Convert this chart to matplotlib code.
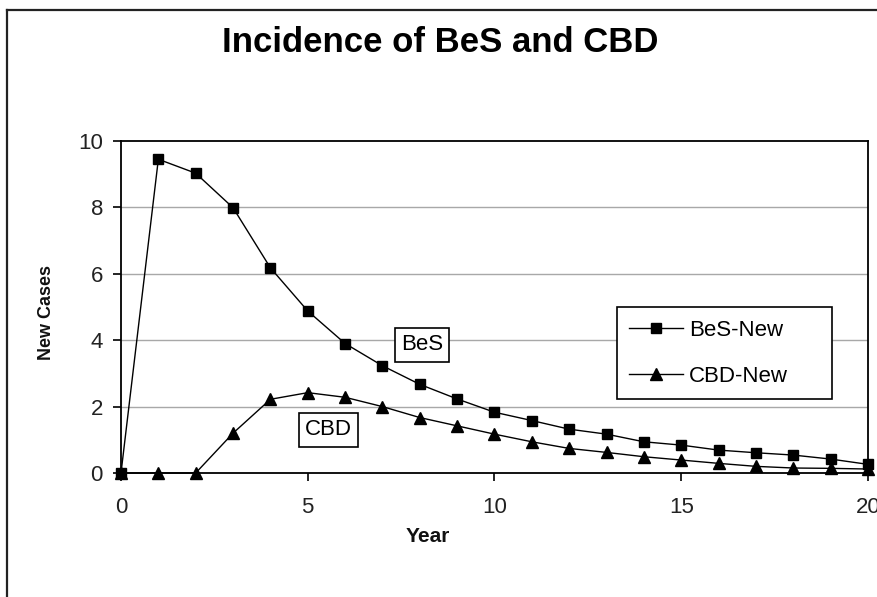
import matplotlib
matplotlib.use("Agg")
import matplotlib.pyplot as plt
from matplotlib.lines import Line2D

plt.rcParams['font.family'] = ['Liberation Sans', 'DejaVu Sans']

years = list(range(0, 21))
bes_new = [0, 9.45, 9.03, 7.99, 6.18, 4.88, 3.9, 3.23, 2.67, 2.23, 1.83,
           1.58, 1.32, 1.17, 0.94, 0.84, 0.69, 0.61, 0.54, 0.42, 0.26]
cbd_new = [0, 0, 0, 1.2, 2.22, 2.42, 2.28, 2.0, 1.67, 1.42, 1.17,
           0.94, 0.74, 0.62, 0.49, 0.39, 0.29, 0.2, 0.15, 0.14, 0.12]
title = "Incidence of BeS and CBD"
x_label = "Year"
y_label = "New Cases"
series_names = ["BeS-New", "CBD-New"]
x_ticks = [0, 5, 10, 15, 20]
y_ticks = [0, 2, 4, 6, 8, 10]

W, H = 878, 597
fig = plt.figure(figsize=(W / 100, H / 100), dpi=100)
fig.patch.set_facecolor('white')

def fx(px):
    return px / W

def fy(py):
    return 1 - py / H

# figure border (only left and top visible in reference)
fig.add_artist(Line2D([fx(7), fx(7)], [fy(10), 0], transform=fig.transFigure,
                      color='#222222', lw=1.6))
fig.add_artist(Line2D([fx(7), 1], [fy(10), fy(10)], transform=fig.transFigure,
                      color='#222222', lw=1.6))

ax = fig.add_axes([fx(121), fy(473), fx(868) - fx(121), fy(141) - fy(473)])
ax.set_xlim(0, 20)
ax.set_ylim(0, 10)

for y in y_ticks[1:-1]:
    ax.axhline(y, color='#a8a8a8', lw=1.0, zorder=1)

ax.plot(years, bes_new, color='black', lw=1.0, marker='s', markersize=7,
        markerfacecolor='black', markeredgecolor='black', clip_on=False,
        zorder=3, label=series_names[0])
ax.plot(years, cbd_new, color='black', lw=1.0, marker='^', markersize=8,
        markerfacecolor='black', markeredgecolor='black', clip_on=False,
        zorder=3, label=series_names[1])

for s in ax.spines.values():
    s.set_color('black')
    s.set_linewidth(1.3)

ax.set_xticks(x_ticks)
ax.set_yticks(y_ticks)
ax.tick_params(direction='out', length=6, width=1.2, color='black',
               labelsize=16)
ax.tick_params(axis='x', pad=11)
ax.tick_params(axis='y', pad=7)
for lab in ax.get_xticklabels() + ax.get_yticklabels():
    lab.set_color('#222222')

fig.text(fx(440), fy(42), title, ha='center', va='center', fontsize=25,
         fontweight='bold', color='black')
fig.text(fx(428), fy(536), x_label, ha='center', va='center', fontsize=15,
         fontweight='bold', color='#111111')
fig.text(fx(47), fy(313), y_label, ha='center', va='center', fontsize=13,
         fontweight='bold', rotation=90, color='#111111')

ax.text(8.06, 3.86, "BeS", ha='center', va='center', fontsize=16, zorder=4,
        bbox=dict(boxstyle='square,pad=0.28', facecolor='white',
                  edgecolor='black', lw=1.2))
ax.text(5.56, 1.30, "CBD", ha='center', va='center', fontsize=16, zorder=4,
        bbox=dict(boxstyle='square,pad=0.28', facecolor='white',
                  edgecolor='black', lw=1.2))

leg = ax.legend(loc='center', bbox_to_anchor=(0.664, 0.223, 0.288, 0.274),
                mode='expand', fontsize=16, frameon=True, fancybox=False,
                framealpha=1, edgecolor='black', borderpad=0.55,
                labelspacing=1.15, handlelength=2.4, handletextpad=0.3,
                borderaxespad=0)
leg.get_frame().set_linewidth(1.2)

fig.savefig("out.png", dpi=100)
